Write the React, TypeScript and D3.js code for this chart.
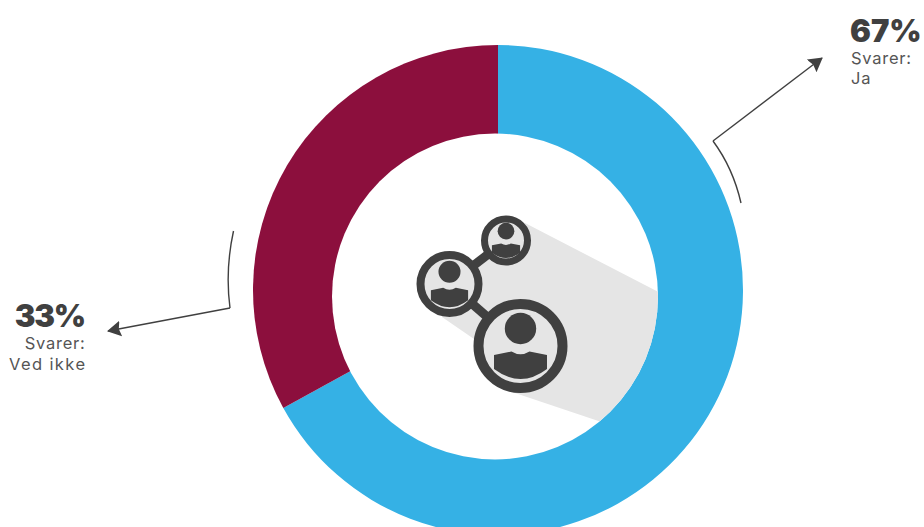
import React from "react";
import * as d3 from "d3";

const answers = ["Ja", "Ved ikke"];
const shares = [67, 33];
const colors = ["#35b1e5", "#8c0f3d"];
const ink = "#404040";

const width = 924;
const height = 527;
const center = { x: 498, y: 290 };
const outerRadius = 245;
const hole = { x: 495, y: 296.5, r: 163 };

const pie = d3.pie<number>().sort(null).value((d) => d);
const arc = d3.arc<d3.PieArcDatum<number>>().innerRadius(0).outerRadius(outerRadius);

const shadowPoints: [number, number][] = [
  [525, 223],
  [670, 298],
  [670, 445],
  [515, 393],
  [490, 350],
  [442, 317],
  [450, 280],
];
const shadowLine = d3.line();

type Person = { x: number; y: number; r: number; ring: number };
const people: Person[] = [
  { x: 506, y: 240.5, r: 25, ring: 7 },
  { x: 449.5, y: 284, r: 33, ring: 8 },
  { x: 520.5, y: 346, r: 47, ring: 10 },
];

function personBody(p: Person) {
  // Shoulders with a small neck notch, closed by a curve at the bottom.
  const k = p.r / 47;
  const path = d3.path();
  path.moveTo(p.x - 26.5 * k, p.y + 9 * k);
  path.lineTo(p.x - 9 * k, p.y + 5.5 * k);
  path.quadraticCurveTo(p.x, p.y + 11 * k, p.x + 9 * k, p.y + 5.5 * k);
  path.lineTo(p.x + 26.5 * k, p.y + 9 * k);
  path.lineTo(p.x + 26.5 * k, p.y + 23 * k);
  path.quadraticCurveTo(p.x, p.y + 43 * k, p.x - 26.5 * k, p.y + 23 * k);
  path.closePath();
  return path.toString();
}

function Arrow({ d }: { d: string }) {
  return <path d={d} fill="none" stroke={ink} strokeWidth={1.4} markerEnd="url(#arrowhead)" />;
}

export default function App() {
  const slices = pie(shares);
  const font = "Inter, 'Open Sans', sans-serif";
  const label = { fontSize: 16.5, fill: "#555", letterSpacing: 0.75 };
  const heading = { fontSize: 31, fontWeight: 900 };
  return (
    <svg
      width={width}
      height={height}
      viewBox={`0 0 ${width} ${height}`}
      style={{ position: "absolute", left: 0, top: 0 }}
    >
      <defs>
        <clipPath id="hole-clip">
          <circle cx={hole.x} cy={hole.y} r={hole.r} />
        </clipPath>
        <marker
          id="arrowhead"
          viewBox="0 0 14 16"
          refX="13"
          refY="8"
          markerWidth="14"
          markerHeight="16"
          markerUnits="userSpaceOnUse"
          orient="auto"
        >
          <path d="M0,0 L14,8 L0,16 L2,8 Z" fill={ink} />
        </marker>
      </defs>
      <g transform={`translate(${center.x},${center.y})`}>
        {slices.map((s, i) => (
          <path key={answers[i]} d={arc(s) ?? ""} fill={colors[i]} />
        ))}
      </g>
      <circle cx={hole.x} cy={hole.y} r={hole.r} fill="#fff" />
      <path d={shadowLine(shadowPoints) + "Z"} fill="#e5e5e5" clipPath="url(#hole-clip)" />

      <g stroke={ink} strokeWidth={9} fill="none">
        <line x1={people[0].x} y1={people[0].y} x2={people[1].x} y2={people[1].y} />
        <line x1={people[1].x} y1={people[1].y} x2={people[2].x} y2={people[2].y} />
      </g>
      {people.map((p) => (
        <g key={p.r}>
          <circle cx={p.x} cy={p.y} r={p.r - p.ring / 2} fill="#e5e5e5" stroke={ink} strokeWidth={p.ring} />
          <circle cx={p.x} cy={p.y - (17.5 * p.r) / 47} r={(15.7 * p.r) / 47} fill={ink} />
          <path d={personBody(p)} fill={ink} />
        </g>
      ))}

      <path d="M741,203 Q733,168 713,141" fill="none" stroke={ink} strokeWidth={1.4} />
      <Arrow d="M713,141 L822,58" />
      <path d="M233.5,231 Q225,270 230,308" fill="none" stroke={ink} strokeWidth={1.4} />
      <Arrow d="M230,308 L108,331" />

      <g fill={ink} fontFamily={font}>
        <text x={850} y={42} {...heading}>
          {shares[0]}%
        </text>
        <text x={851} y={64} {...label}>
          Svarer:
        </text>
        <text x={851} y={84} {...label}>
          {answers[0]}
        </text>
        <text x={85} y={327} {...heading} letterSpacing={-1.2} textAnchor="end">
          {shares[1]}%
        </text>
        <text x={85.5} y={349} {...label} textAnchor="end">
          Svarer:
        </text>
        <text x={9} y={370} fontSize={16.5} fill="#555" textLength={76} lengthAdjust="spacing">
          {answers[1]}
        </text>
      </g>
    </svg>
  );
}
